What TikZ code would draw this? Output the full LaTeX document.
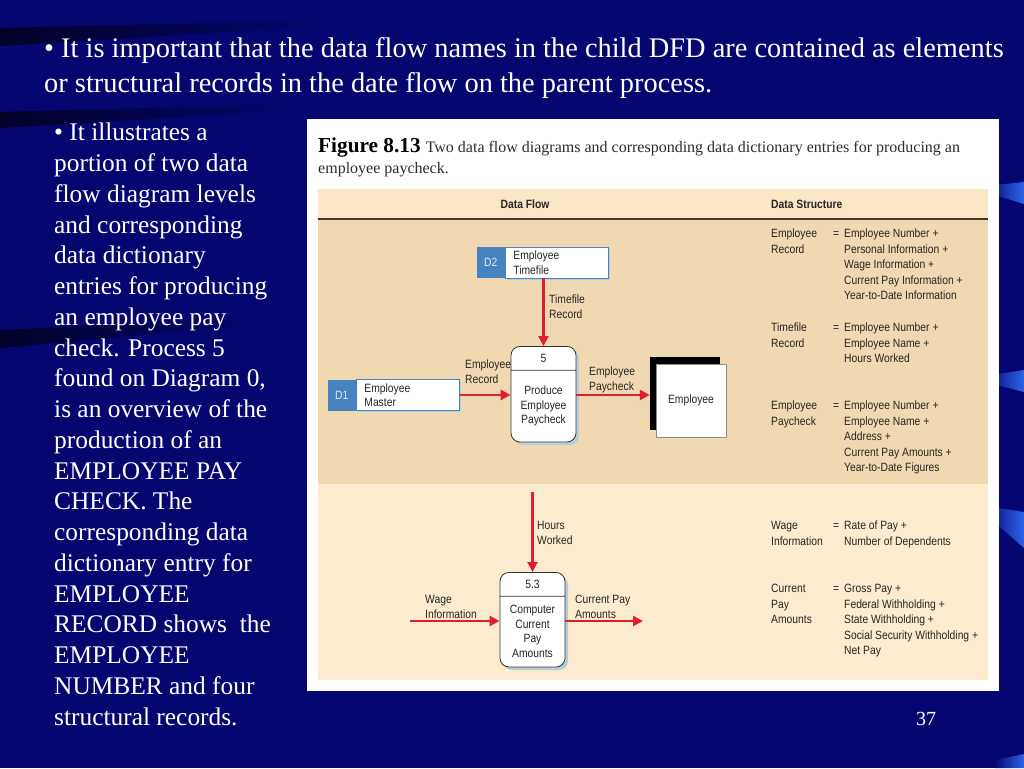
\documentclass[tikz,border=0pt]{standalone}
\usepackage{fontspec}
\setmainfont{Liberation Serif}
\newfontfamily\figsans[FakeStretch=0.86]{Liberation Sans}
\usetikzlibrary{positioning,shapes.multipart,shadows,arrows.meta}

\definecolor{slidenavy}{RGB}{6,6,112}
\definecolor{streakdark}{RGB}{2,2,40}
\definecolor{streakblue}{RGB}{45,100,235}
\definecolor{paneltan}{RGB}{240,216,176}
\definecolor{panellight}{RGB}{252,235,206}
\definecolor{headtan}{RGB}{250,231,198}
\definecolor{headrule}{RGB}{62,56,44}
\definecolor{storeblue}{RGB}{70,132,192}
\definecolor{flowred}{RGB}{222,30,50}
\definecolor{procshadow}{RGB}{182,204,214}
\definecolor{captext}{RGB}{45,45,45}

\begin{document}
\begin{tikzpicture}[x=1pt, y=-1pt,
    slidetext/.style={text=white, inner sep=0pt, align=left, anchor=base west},
    dff/.style={font=\figsans\fontsize{12}{14.5}\selectfont, inner sep=0pt, text=black!85},
    store/.style={dff, draw=storeblue, fill=white, line width=0.8pt, minimum height=31pt,
        inner xsep=8pt, text width=87pt, align=left,
        drop shadow={shadow xshift=1.5pt, shadow yshift=-1.5pt, fill=procshadow, opacity=1}},
    storeid/.style={dff, fill=storeblue, text=white!85!storeblue, minimum width=28pt, minimum height=31pt},
    proc/.style={dff, draw=black!80, fill=white, line width=0.8pt, rounded corners=9pt,
        rectangle split, rectangle split parts=2,
        drop shadow={shadow xshift=3pt, shadow yshift=-3pt, fill=procshadow, opacity=1}},
    entity/.style={dff, draw=black!45, fill=white, minimum width=70pt, minimum height=73pt,
        drop shadow={shadow xshift=-6pt, shadow yshift=7pt, fill=black, opacity=1}},
    flow/.style={draw=flowred, line width=2.6pt, -{Triangle[length=10pt,width=10pt]}},
    flowlbl/.style={dff, align=left, anchor=base west},
    ddentry/.style={dff, font=\figsans\fontsize{12}{15.6}\selectfont, anchor=base west}
]
    \useasboundingbox (0,0) rectangle (1024,768);
    % slide background
    \fill[slidenavy] (0,0) rectangle (1024,768);
    \shade[left color=streakdark, right color=slidenavy] (0,28) -- (330,20) -- (330,26) -- (0,46) -- cycle;
    \shade[left color=streakdark, right color=slidenavy] (0,112) -- (300,104) -- (300,110) -- (0,128) -- cycle;
    \shade[left color=streakdark, right color=slidenavy] (0,330) -- (260,318) -- (260,324) -- (0,348) -- cycle;
    \shade[left color=slidenavy, right color=streakblue] (985,186) -- (1024,182) -- (1024,204) -- (985,192) -- cycle;
    \shade[left color=slidenavy, right color=streakblue] (985,376) -- (1024,370) -- (1024,392) -- (985,382) -- cycle;
    \shade[left color=slidenavy, right color=streakblue] (985,506) -- (1024,512) -- (1024,548) -- (985,514) -- cycle;
    \shade[left color=slidenavy, right color=streakblue] (995,760) -- (1024,754) -- (1024,768) -- (995,768) -- cycle;

    % slide text (multi-line nodes sit on their last baseline)
    \node[slidetext, font=\fontsize{28.4}{35}\selectfont] (intro) at (44,92)
        {\textbullet\ It is important that the data flow names in the child DFD are contained as elements\\
         or structural records in the date flow on the parent process.};
    \node[slidetext, font=\fontsize{25.4}{30.75}\selectfont] (notes) at (54,725)
        {\textbullet\ It illustrates a\\portion of two data\\flow diagram levels\\and corresponding\\
         data dictionary\\entries for producing\\an employee pay\\check. Process 5\\
         found on Diagram 0,\\is an overview of the\\production of an\\EMPLOYEE PAY\\
         CHECK. The\\corresponding data\\dictionary entry for\\EMPLOYEE\\
         RECORD shows\ \ the\\EMPLOYEE\\NUMBER and four\\structural records.};
    \node[slidetext, font=\fontsize{20}{22}\selectfont] (pageno) at (916,725) {37};

    % figure
    \fill[white] (307,119) rectangle (999,691);
    \fill[headtan] (318,189) rectangle (988,218);
    \fill[paneltan] (318,219.5) rectangle (988,484);
    \fill[panellight] (318,484) rectangle (988,680);
    \draw[headrule, line width=2pt] (318,218.5) -- (988,218.5);

    \node[anchor=base west, inner sep=0pt, align=left, text=captext, font=\fontsize{16}{21}\selectfont] (caption) at (318,173)
        {{\fontsize{21.3}{21}\selectfont\bfseries\color{black} Figure 8.13}\hspace{5pt}Two data flow diagrams and corresponding data dictionary entries for producing an\\
         employee paycheck.};
    \node[dff, font=\figsans\bfseries\fontsize{12}{14.5}\selectfont, anchor=base] (hflow) at (525,208) {Data Flow};
    \node[dff, font=\figsans\bfseries\fontsize{12}{14.5}\selectfont, anchor=base west] (hstruct) at (771,208) {Data Structure};

    % upper diagram
    \node[store, anchor=west] (d2) at (505,262.5) {Employee\\Timefile};
    \node[storeid, anchor=east] (d2id) at (d2.west) {D2};
    \node[store, anchor=west] (d1) at (356,395) {Employee\\Master};
    \node[storeid, anchor=east] (d1id) at (d1.west) {D1};
    \node[proc, anchor=north] (p5) at (543.5,346)
        {\parbox[c][23pt][c]{65pt}{\centering 5}\nodepart{two}\parbox[c][71pt][c]{65pt}{\centering Produce\\Employee\\Paycheck}};
    \node[entity] (emp) at (691,400.5) {Employee};

    \draw[flow] (p5.north |- d2.south) -- (p5.north);
    \draw[flow] (d1.east) -- (d1.east -| p5.west);
    \draw[flow] (d1.east -| p5.east) -- ([xshift=-6pt]d1.east -| emp.west);

    \node[flowlbl] (ltime) at (549,318) {Timefile\\Record};
    \node[flowlbl] (lrec) at (465,383) {Employee\\Record};
    \node[flowlbl] (lpay) at (589,390) {Employee\\Paycheck};

    % lower diagram
    \node[proc, anchor=north] (p53) at (532.5,572)
        {\parbox[c][23pt][c]{65pt}{\centering 5.3}\nodepart{two}\parbox[c][70pt][c]{65pt}{\centering Computer\\Current\\Pay\\Amounts}};
    \coordinate (hours) at (532.5,492);
    \coordinate (wagein) at (410,621);
    \coordinate (payout) at (643,621);
    \draw[flow] (hours) -- (p53.north);
    \draw[flow] (wagein) -- (wagein -| p53.west);
    \draw[flow] (wagein -| p53.east) -- (payout);

    \node[flowlbl] (lhours) at (537,544) {Hours\\Worked};
    \node[flowlbl] (lwage) at (425,618) {Wage\\Information};
    \node[flowlbl] (lcurr) at (575,618) {Current Pay\\Amounts};

    % data dictionary
    \node[ddentry] (ddrec) at (771,237.5) {\begin{tabular}[t]{@{}p{62pt}@{}p{11pt}@{}l@{}}
        Employee & = & Employee Number +\\ Record & & Personal Information +\\ & & Wage Information +\\
        & & Current Pay Information +\\ & & Year-to-Date Information\end{tabular}};
    \node[ddentry] (ddtime) at (771,331.5) {\begin{tabular}[t]{@{}p{62pt}@{}p{11pt}@{}l@{}}
        Timefile & = & Employee Number +\\ Record & & Employee Name +\\ & & Hours Worked\end{tabular}};
    \node[ddentry] (ddpay) at (771,409.5) {\begin{tabular}[t]{@{}p{62pt}@{}p{11pt}@{}l@{}}
        Employee & = & Employee Number +\\ Paycheck & & Employee Name +\\ & & Address +\\
        & & Current Pay Amounts +\\ & & Year-to-Date Figures\end{tabular}};
    \node[ddentry] (ddwage) at (771,529.5) {\begin{tabular}[t]{@{}p{62pt}@{}p{11pt}@{}l@{}}
        Wage & = & Rate of Pay +\\ Information & & Number of Dependents\end{tabular}};
    \node[ddentry] (ddcurr) at (771,592.5) {\begin{tabular}[t]{@{}p{62pt}@{}p{11pt}@{}l@{}}
        Current & = & Gross Pay +\\ Pay & & Federal Withholding +\\ Amounts & & State Withholding +\\
        & & Social Security Withholding +\\ & & Net Pay\end{tabular}};
\end{tikzpicture}
\end{document}
